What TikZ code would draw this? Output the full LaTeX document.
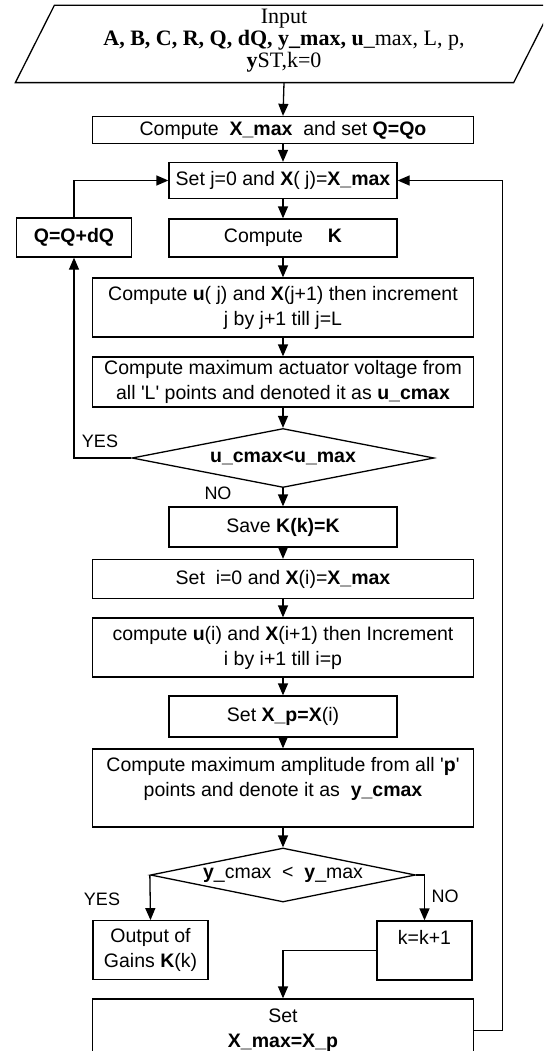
\documentclass[tikz,border=0pt]{standalone}
\usepackage{fontspec}
\setmainfont{Liberation Serif}
\setsansfont{Liberation Sans}
\usetikzlibrary{shapes.geometric,arrows.meta}
\newcommand{\padlow}[1]{\rule[-#1]{0pt}{#1}}

\begin{document}
\begin{tikzpicture}[x=1pt, y=-1pt, line width=1.3pt, >={Triangle[length=12pt,width=10pt]},
    box/.style={draw, inner sep=0pt, align=center, font=\sffamily\fontsize{19.5}{25}\selectfont},
    wide/.style={box, minimum width=381pt},
    narrow/.style={box, minimum width=228pt},
    test/.style={box, diamond, aspect=5},
    tag/.style={font=\sffamily\fontsize{18}{20}\selectfont}]
    \clip (0,0) rectangle (543,1051);

    \node[inner sep=0pt, align=center, minimum width=458pt, minimum height=76pt,
          font=\fontsize{22}{22}\selectfont] (input) at (284,44)
        {Input\\ \textbf{A, B, C, R, Q, dQ, y\_max, u}\_max, L, p,\\ \textbf{y}ST,k=0\padlow{11pt}};
    \draw ([xshift=-39pt]input.south west) -- (input.north west)
        -- ([xshift=39pt]input.north east) -- (input.south east) -- cycle;

    \node[wide, minimum height=27pt] (xmax) at (283,130) {Compute \ \textbf{X\_max} \ and set \textbf{Q=Qo}};
    \node[narrow, minimum height=36pt] (setj) at (283,180.5) {Set j=0 and \textbf{X}( j)=\textbf{X\_max}};
    \node[box, minimum width=115pt, minimum height=39pt] (qdq) at (74,237.5) {\textbf{Q=Q+dQ}};
    \node[narrow, minimum height=38pt] (compk) at (283,238) {Compute \quad\textbf{K}};
    \node[wide, minimum height=59pt] (compu) at (283,307.5)
        {Compute \textbf{u}( j) and \textbf{X}(j+1) then increment\\ j by j+1 till j=L};
    \node[wide, minimum height=50pt] (actmax) at (283,382)
        {Compute maximum actuator voltage from\\ all \textquotesingle L\textquotesingle{} points and denoted it as \textbf{u\_cmax}};
    \node[test, minimum width=302pt, minimum height=59pt] (d1) at (283,458) {\textbf{u\_cmax<u\_max}};
    \node[narrow, minimum height=40pt] (savek) at (283,527) {Save \textbf{K(k)=K}};
    \node[wide, minimum height=39pt] (seti) at (283,579) {Set \ i=0 and \textbf{X}(i)=\textbf{X\_max}};
    \node[wide, minimum height=59pt] (compui) at (283,647.5)
        {compute \textbf{u}(i) and \textbf{X}(i+1) then Increment\\ i by i+1 till i=p};
    \node[narrow, minimum height=41pt] (setxp) at (283,716.5) {Set \textbf{X\_p=X}(i)};
    \node[wide, minimum height=78pt] (ampmax) at (283,788)
        {Compute maximum amplitude from all \textquotesingle\textbf{p}\textquotesingle\\ points and denote it as \ \textbf{y\_cmax}\padlow{22pt}};
    \node[test, minimum width=265pt, minimum height=54pt] (d2) at (283,875)
        {\textbf{y}\_cmax \ < \ \textbf{y}\_max};
    \node[box, minimum width=115pt, minimum height=58.5pt] (output) at (150.5,950)
        {Output of\\ Gains \textbf{K}(k)};
    \node[box, minimum width=95pt, minimum height=59pt] (kinc) at (424.5,950.5) {k=k+1\padlow{27pt}};
    \node[wide, minimum height=63pt] (setx) at (283,1030.5) {Set\\ \textbf{X\_max=X\_p}};

    \draw[->] (input.south) -- (xmax.north);
    \draw[->] (xmax) -- (setj);
    \draw[->] (setj) -- (compk);
    \draw[->] (compk) -- (compu);
    \draw[->] (compu) -- (actmax);
    \draw[->] (actmax) -- (d1.north);
    \draw[->] (d1.south) -- (savek);
    \draw[->] (savek) -- (seti);
    \draw[->] (seti) -- (compui);
    \draw[->] (compui) -- (setxp);
    \draw[->] (setxp) -- (ampmax);
    \draw[->] (ampmax) -- (d2.north);

    \draw[->] (d1.west) -| (qdq.south);
    \draw[->] (qdq.north) |- (setj.west);
    \draw[->] (d2.west) -- (output.north);
    \draw[->] (d2.east) -| (kinc.north);
    \draw[->] (kinc.west) -| (setx.north);
    \draw[->] (setx.east) -- ++(28.5,0) |- (setj.east);

    \node[tag] (yes1) at (100,441) {YES};
    \node[tag] (no1) at (218,493) {NO};
    \node[tag] (yes2) at (102,899) {YES};
    \node[tag] (no2) at (445,896) {NO};
\end{tikzpicture}
\end{document}
